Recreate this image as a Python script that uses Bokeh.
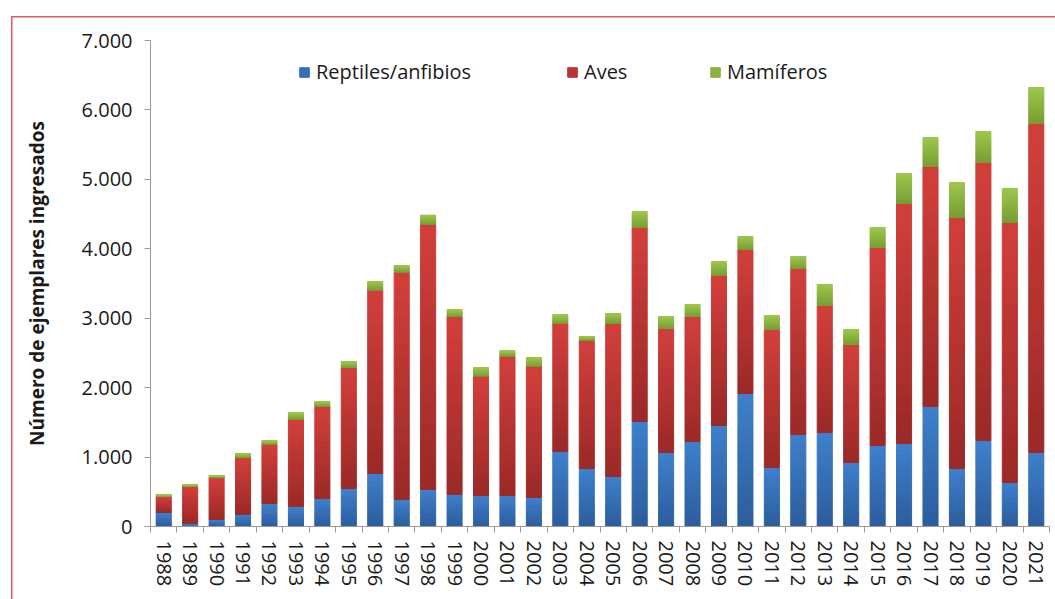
from bokeh.plotting import figure
from bokeh.models import FixedTicker, Legend, LegendItem, Range1d
from bokeh.embed import file_html
from bokeh.resources import INLINE
import numpy as np

# ---------------- data ----------------
years = list(range(1988, 2022))
reptiles = [202, 43, 101, 173, 331, 288, 403, 547, 763, 389, 533, 461, 446, 446, 418,
            1080, 835, 720, 1512, 1066, 1224, 1455, 1916, 850, 1325, 1354, 922, 1167,
            1195, 1728, 835, 1239, 634, 1066]
aves = [230, 533, 605, 821, 855, 1253, 1330, 1743, 2641, 3274, 3821, 2564, 1719, 2007,
        1891, 1844, 1849, 2204, 2795, 1786, 1801, 2160, 2074, 1987, 2391, 1829, 1699,
        2851, 3457, 3457, 3616, 4004, 3745, 4738]
mamiferos = [29, 29, 29, 57, 53, 101, 67, 86, 125, 96, 130, 100, 125, 82, 125, 129, 53,
             144, 230, 173, 173, 202, 187, 202, 173, 303, 216, 289, 432, 418, 504, 446,
             489, 519]
series_names = ["Reptiles/anfibios", "Aves", "Mamíferos"]
y_ticks = [0, 1000, 2000, 3000, 4000, 5000, 6000, 7000]
y_tick_labels = ["0", "1.000", "2.000", "3.000", "4.000", "5.000", "6.000", "7.000"]
y_title = "Número de ejemplares ingresados"

# ---------------- style ----------------
FONT = "Open Sans"
TEXT = "#1a1a1a"
AXIS = "#9a9a9a"
BORDER = "#de5a6c"
grad = [("#2c5c9b", "#3e80cc"), ("#9a2927", "#d23f3b"), ("#769d33", "#9dc64c")]
NB = 16


def lerp(c1, c2, t):
    a = [int(c1[i:i + 2], 16) for i in (1, 3, 5)]
    b = [int(c2[i:i + 2], 16) for i in (1, 3, 5)]
    return "#" + "".join(f"{round(x + (y - x) * t):02x}" for x, y in zip(a, b))


p = figure(width=1055, height=599, output_backend="svg", toolbar_location=None,
           x_range=Range1d(1987.5, 2021.5), y_range=Range1d(0, 7000),
           min_border_left=150, min_border_right=6, min_border_top=40,
           min_border_bottom=73)
p.outline_line_color = None
p.xgrid.grid_line_color = None
p.ygrid.grid_line_color = None
p.background_fill_color = "white"
p.border_fill_alpha = 0
# thin outer frame of the original chart box (drawn behind the transparent border area)
p.styles = {
    "background-color": "white",
    "background-image": (f"linear-gradient({BORDER}, {BORDER}), "
                         f"linear-gradient({BORDER}, {BORDER})"),
    "background-position": "11px 16px, 11px 16px",
    "background-size": "1.5px 2000px, 3000px 1.5px",
    "background-repeat": "no-repeat, no-repeat",
}

vals = [np.array(reptiles, float), np.array(aves, float), np.array(mamiferos, float)]
base = np.zeros(len(years))
legend_r = []
for s in range(3):
    v = vals[s]
    dark, light = grad[s]
    for k in range(NB):
        col = lerp(dark, light, (k + 0.5) / NB)
        r = p.vbar(x=years, bottom=base + v * k / NB, top=base + v * (k + 1) / NB,
                   width=0.57, fill_color=col, line_color=col, line_width=1)
        if k == NB // 2:
            legend_r.append(r)
    base = base + v

# x axis: labels at years, tick marks between categories
xa = p.xaxis[0]
xa.ticker = FixedTicker(ticks=years,
                        minor_ticks=[y - 0.5 for y in years] + [years[-1] + 0.5])
xa.major_label_orientation = "vertical"
xa.major_label_text_font = FONT
xa.major_label_text_font_size = "20px"
xa.major_label_text_color = TEXT
xa.major_label_standoff = 8
xa.major_tick_out = 6
xa.major_tick_in = 0
xa.major_tick_line_color = None
xa.minor_tick_out = 6
xa.minor_tick_in = 0
xa.minor_tick_line_color = AXIS
xa.axis_line_color = AXIS

ya = p.yaxis[0]
ya.ticker = FixedTicker(ticks=y_ticks, minor_ticks=[])
ya.major_label_overrides = {t: l for t, l in zip(y_ticks, y_tick_labels)}
ya.major_label_text_font = FONT
ya.major_label_text_font_size = "20px"
ya.major_label_text_color = TEXT
ya.major_label_standoff = 12
ya.major_tick_out = 6
ya.major_tick_in = 0
ya.major_tick_line_color = AXIS
ya.minor_tick_line_color = None
ya.axis_line_color = AXIS
ya.axis_label = y_title
ya.axis_label_text_font = FONT
ya.axis_label_text_font_size = "19px"
ya.axis_label_text_font_style = "bold"
ya.axis_label_text_color = TEXT
ya.axis_label_standoff = 29

# legends (three separate entries placed like the original)
leg_x = [148, 416, 559]
for i, name in enumerate(series_names):
    leg = Legend(items=[LegendItem(label=name, renderers=[legend_r[i]])],
                 location=(leg_x[i], 441), orientation="horizontal",
                 padding=0, margin=0, spacing=0, border_line_color=None,
                 background_fill_alpha=0, glyph_width=12, glyph_height=12,
                 label_standoff=6, label_text_font=FONT,
                 label_text_font_size="20px", label_text_color=TEXT,
                 label_height=20)
    p.add_layout(leg, "center")

open("out.html", "w").write(file_html(p, INLINE))
